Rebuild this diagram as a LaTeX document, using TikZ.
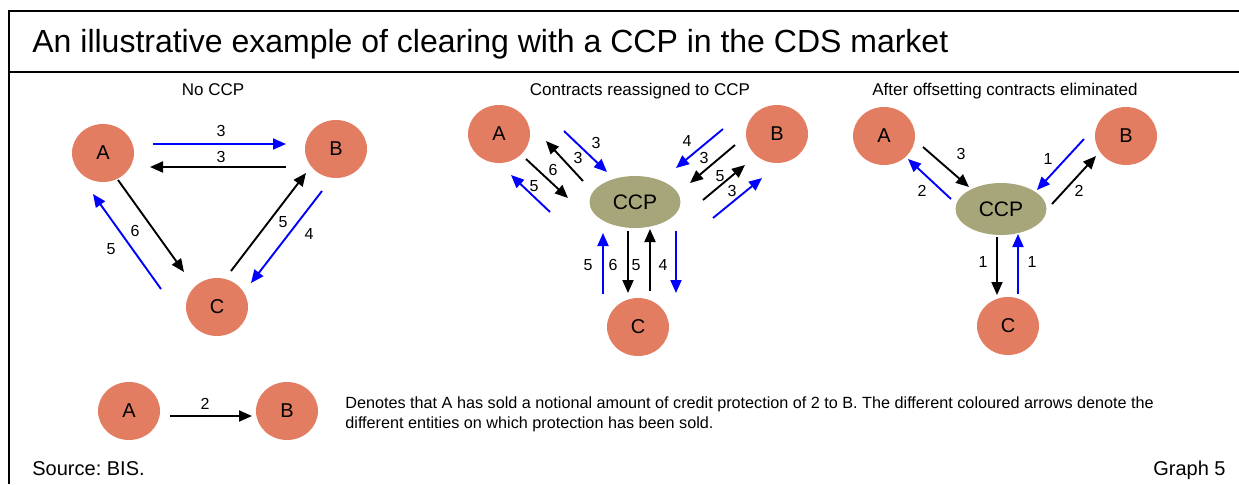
\documentclass[tikz,border=0pt]{standalone}
\usepackage{fontspec}
\setmainfont{Liberation Sans}
\usetikzlibrary{arrows.meta,shapes.geometric}
\frenchspacing
\definecolor{partyfill}{RGB}{226,125,98}
\definecolor{ccpfill}{RGB}{166,166,122}
\definecolor{arrblue}{RGB}{0,0,255}
\tikzset{
  party/.style={ellipse,fill=partyfill,minimum width=31pt,minimum height=29pt,inner sep=0pt,font=\fontsize{10}{12}\selectfont},
  ccpnode/.style={ellipse,fill=ccpfill,minimum width=45.5pt,minimum height=26pt,inner sep=0pt,font=\fontsize{10.5}{12}\selectfont},
  blk/.style={draw=black,line width=0.95pt,-{Triangle[length=6.5pt,width=5.5pt]}},
  blu/.style={draw=arrblue,line width=0.95pt,-{Triangle[length=6.5pt,width=5.5pt]}},
  lbl/.style={inner sep=0pt,font=\fontsize{8}{9.6}\selectfont},
  ptitle/.style={inner sep=0pt,anchor=base,font=\fontsize{8.5}{10}\selectfont},
  frame/.style={line width=1pt}
}
\newcommand\conn[4]{\coordinate (#1-s) at (#2); \coordinate (#1-e) at (#3); \draw[#4] (#1-s) -- (#1-e);}
\begin{document}
\begin{tikzpicture}[x=0.5pt,y=-0.5pt]
\useasboundingbox (0,0) rectangle (1239,484);
% frame
\draw[frame] (9,484) -- (9,11) -- (1239,11);
\draw[frame] (9,72) -- (1239,72);
\node[inner sep=0pt,anchor=base west,font=\fontsize{16}{19}\selectfont] (title) at (32,52) {An illustrative example of clearing with a CCP in the CDS market};

% ---------- Panel 1: No CCP ----------
\node[ptitle] (t1) at (213,95) {No CCP};
\node[party] (A1) at (103,153) {A};
\node[party] (B1) at (336,149) {B};
\node[party] (C1) at (217,307) {C};
\conn{p1ab}{153,144}{286,144}{blu}
\conn{p1ba}{286,167}{150,167}{blk}
\conn{p1ac}{118,180}{184,272}{blk}
\conn{p1ca}{161,289}{93,194}{blu}
\conn{p1cb}{231,271}{306,173}{blk}
\conn{p1bc}{322,191}{251,283}{blu}
\node[lbl] (l1a) at (221,131) {3};
\node[lbl] (l1b) at (221,157) {3};
\node[lbl] (l1c) at (135,231) {6};
\node[lbl] (l1d) at (111,249) {5};
\node[lbl] (l1e) at (283,222) {5};
\node[lbl] (l1f) at (309,234) {4};

% ---------- Panel 2: Contracts reassigned ----------
\node[ptitle] (t2) at (640,95) {Contracts reassigned to CCP};
\node[party] (A2) at (499,134) {A};
\node[party] (B2) at (777,134) {B};
\node[party] (C2) at (638,327) {C};
\node[ccpnode] (P2) at (635,202) {CCP};
% A side
\conn{p2a1}{564,131}{607,172}{blu}
\conn{p2a2}{583,181}{546,141}{blk}
\conn{p2a3}{526,159}{568,198}{blk}
\conn{p2a4}{550,212}{511,175}{blu}
\node[lbl] (l2a1) at (596,143) {3};
\node[lbl] (l2a2) at (578,158) {3};
\node[lbl] (l2a3) at (553,170) {6};
\node[lbl] (l2a4) at (534,186) {5};
% B side
\conn{p2b1}{723,129}{676,168}{blu}
\conn{p2b2}{735,145}{690,183}{blk}
\conn{p2b3}{703,200}{745,165}{blk}
\conn{p2b4}{713,218}{762,178}{blu}
\node[lbl] (l2b1) at (687,141) {4};
\node[lbl] (l2b2) at (704,158) {3};
\node[lbl] (l2b3) at (720,176) {5};
\node[lbl] (l2b4) at (732,191) {3};
% C side
\conn{p2c1}{603,294}{603,233}{blu}
\conn{p2c2}{628,231}{628,293}{blk}
\conn{p2c3}{650,291}{650,229}{blk}
\conn{p2c4}{676,231}{676,293}{blu}
\node[lbl] (l2c1) at (588,265) {5};
\node[lbl] (l2c2) at (613,265) {6};
\node[lbl] (l2c3) at (636,265) {5};
\node[lbl] (l2c4) at (663,265) {4};

% ---------- Panel 3: After offsetting ----------
\node[ptitle] (t3) at (1005,95) {After offsetting contracts eliminated};
\node[party] (A3) at (884,136) {A};
\node[party] (B3) at (1126,136) {B};
\node[party] (C3) at (1008,326) {C};
\node[ccpnode] (P3) at (1001,209) {CCP};
\conn{p3a1}{923,147}{969,187}{blk}
\conn{p3a2}{951,199}{908,159}{blu}
\conn{p3b1}{1084,139}{1037,190}{blu}
\conn{p3b2}{1052,204}{1096,156}{blk}
\conn{p3c1}{997,237}{997,295}{blk}
\conn{p3c2}{1018,294}{1018,234}{blu}
\node[lbl] (l3a1) at (961,154) {3};
\node[lbl] (l3a2) at (922,191) {2};
\node[lbl] (l3b1) at (1048,159) {1};
\node[lbl] (l3b2) at (1079,191) {2};
\node[lbl] (l3c1) at (983,262) {1};
\node[lbl] (l3c2) at (1032,262) {1};

% ---------- Legend ----------
\node[party] (AL) at (129,411) {A};
\node[party] (BL) at (287,411) {B};
\conn{leg}{170,416}{252,416}{blk}
\node[lbl] (lleg) at (205,404) {2};
\node[inner sep=0pt,anchor=north west,align=left,font=\fontsize{8.1}{10}\selectfont] (legtext) at (345,396)
  {Denotes that A has sold a notional amount of credit protection of 2 to B. The different coloured arrows denote the\\different entities on which protection has been sold.};

% ---------- Footer ----------
\node[inner sep=0pt,anchor=base west,font=\fontsize{10}{12}\selectfont] (src) at (32,475) {Source: BIS.};
\node[inner sep=0pt,anchor=base east,font=\fontsize{10}{12}\selectfont] (graph) at (1226,475) {Graph 5};
\end{tikzpicture}
\end{document}
